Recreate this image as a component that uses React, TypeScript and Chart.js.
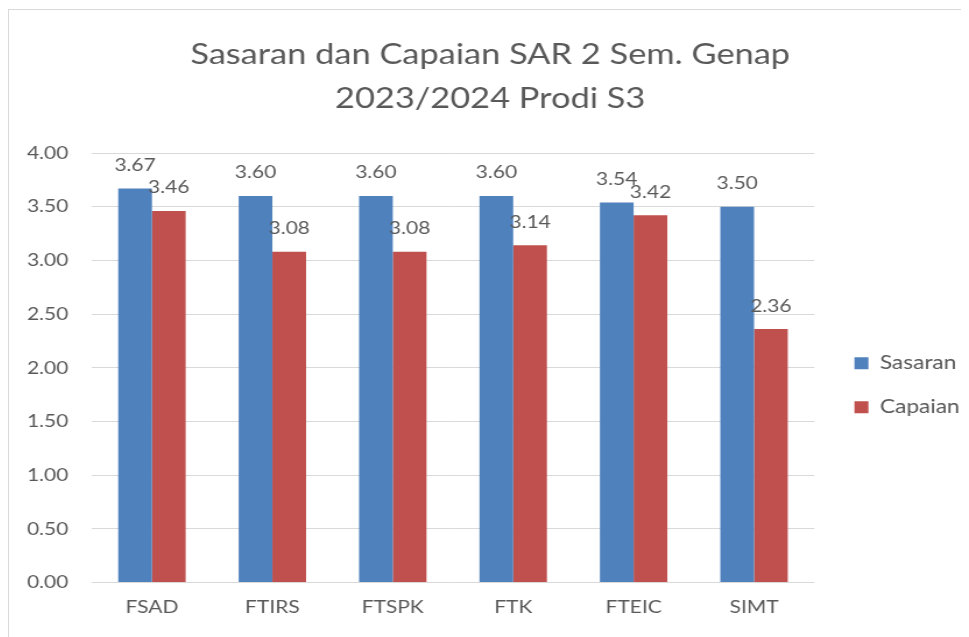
import React, { useEffect, useRef } from "react";
import { Chart, registerables } from "chart.js";

Chart.register(...registerables);

const categories = ["FSAD", "FTIRS", "FTSPK", "FTK", "FTEIC", "SIMT"];
const sasaran = [3.67, 3.6, 3.6, 3.6, 3.54, 3.5];
const capaian = [3.46, 3.08, 3.08, 3.14, 3.42, 2.36];
const titleLines = ["Sasaran dan Capaian SAR 2 Sem. Genap", "2023/2024 Prodi S3"];

const FONT = "Lato, 'Noto Sans', sans-serif";
const TEXT = "#595959";

// The drawing is rendered narrower and stretched horizontally by CSS (like the reference)
const CANVAS_W = 836;
const CANVAS_H = 638;
const SHOW_W = 974;

const labelPlugin = {
  id: "barLabels",
  afterDatasetsDraw(chart: any) {
    const ctx = chart.ctx;
    ctx.save();
    ctx.font = `18px ${FONT}`;
    ctx.fillStyle = TEXT;
    ctx.textAlign = "center";
    ctx.textBaseline = "alphabetic";
    chart.data.datasets.forEach((ds: any, i: number) => {
      const meta = chart.getDatasetMeta(i);
      meta.data.forEach((bar: any, j: number) => {
        ctx.fillText(Number(ds.data[j]).toFixed(2), bar.x, bar.y - 17.5);
      });
    });
    ctx.restore();
  },
};

export default function App() {
  const ref = useRef<HTMLCanvasElement>(null);
  useEffect(() => {
    document.documentElement.style.overflow = "hidden";
    const chart = new Chart(ref.current!, {
      type: "bar",
      data: {
        labels: categories,
        datasets: [
          { label: "Sasaran", data: sasaran, backgroundColor: "#4F81BD", yAxisID: "y" },
          { label: "Capaian", data: capaian, backgroundColor: "#C0504D", yAxisID: "y" },
        ],
      },
      options: {
        animation: false,
        responsive: false,
        devicePixelRatio: 1,
        layout: { padding: { left: 0, right: 10, top: 0, bottom: 16 } },
        datasets: { bar: { categoryPercentage: 0.56, barPercentage: 1 } },
        plugins: {
          title: {
            display: true,
            text: titleLines,
            color: TEXT,
            font: { family: FONT, size: 29.5, weight: "normal", lineHeight: 44 / 29.5 },
            padding: { top: 22, bottom: 33 },
          },
          legend: {
            position: "right",
            fullSize: false,
            title: { display: true, text: " ", font: { size: 10, lineHeight: 1.2 }, padding: 11.5 },
            labels: {
              color: TEXT,
              font: { family: FONT, size: 19.5 },
              boxWidth: 12,
              boxHeight: 12,
              padding: 24.5,
            },
          },
          tooltip: { enabled: false },
        },
        scales: {
          y: {
            min: 0,
            max: 4,
            afterFit: (s: any) => {
              s.width = 71;
            },
            ticks: {
              stepSize: 0.5,
              color: TEXT,
              font: { family: FONT, size: 18 },
              padding: 20,
              callback: (v: any) => Number(v).toFixed(2),
            },
            grid: { color: "#d9d9d9", lineWidth: 1, drawTicks: false },
            border: { display: false },
          },
          y2: {
            position: "right",
            min: 0,
            max: 4,
            afterFit: (s: any) => {
              s.width = 10;
            },
            ticks: { display: false },
            grid: { display: false, drawTicks: false },
            border: { display: false },
          },
          x: {
            ticks: { color: TEXT, font: { family: FONT, size: 18 }, padding: 14 },
            grid: { display: false, drawTicks: false },
            border: { display: false },
          },
        },
      },
      plugins: [labelPlugin],
    });
    return () => chart.destroy();
  }, []);
  return (
    <div
      style={{
        width: SHOW_W + 2,
        height: 640,
        marginTop: 1,
        border: "1px solid #d9d9d9",
        boxSizing: "border-box",
        background: "#fff",
        overflow: "hidden",
      }}
    >
      <canvas
        ref={ref}
        width={CANVAS_W}
        height={CANVAS_H}
        style={{ width: SHOW_W, height: CANVAS_H, display: "block" }}
      />
    </div>
  );
}
